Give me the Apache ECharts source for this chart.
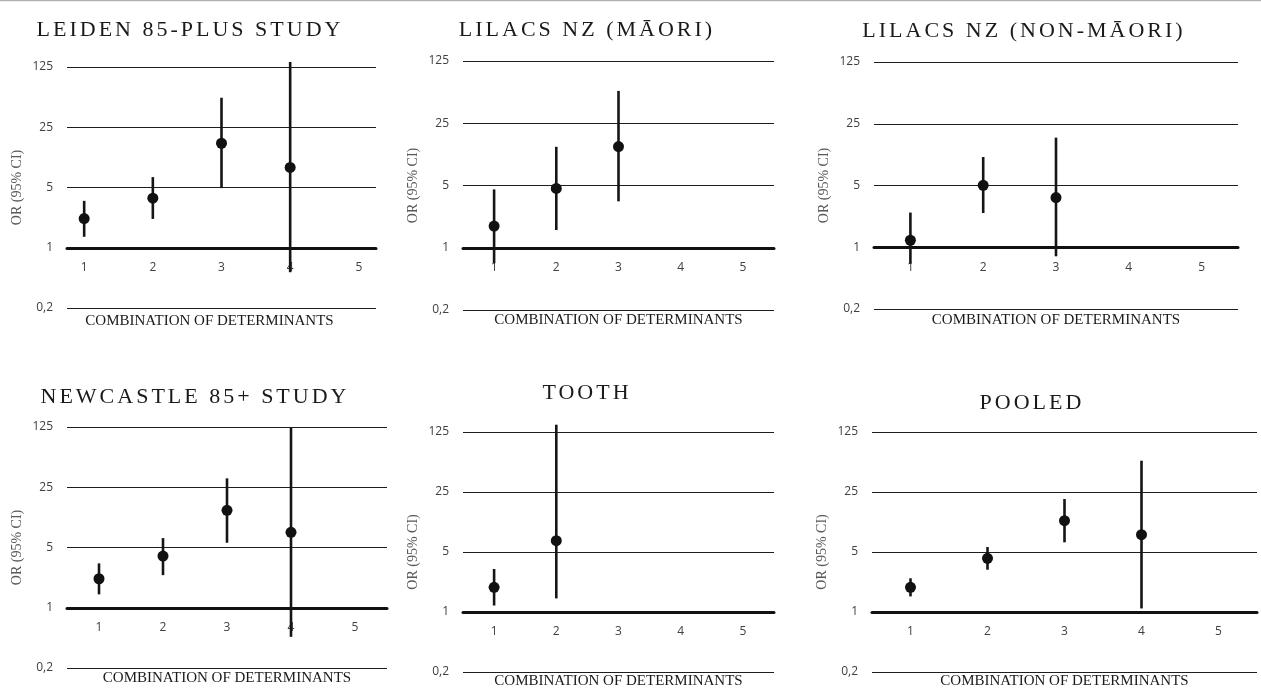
<!DOCTYPE html>
<html>
<head>
<meta charset="utf-8">
<title>OR by combination of determinants</title>
<script src="https://cdn.jsdelivr.net/npm/echarts@6/dist/echarts.min.js"></script>
<style>
  html, body { margin: 0; padding: 0; background: #fff; }
  #chart { width: 1261px; height: 691px; }
</style>
</head>
<body>
<div id="chart"></div>
<script>
// panel titles
var titles = ['LEIDEN 85-PLUS STUDY', 'LILACS NZ (MĀORI)', 'LILACS NZ (NON-MĀORI)',
              'NEWCASTLE 85+ STUDY', 'TOOTH', 'POOLED'];
var categories = [1, 2, 3, 4, 5];
var yTicks = [0.2, 1, 5, 25, 125];
var yTickLabels = ['0,2', '1', '5', '25', '125'];

// odds ratio and 95% CI per panel, one entry per combination
var orLeiden    = [2.18, 3.76, 16.3, 8.55];
var loLeiden    = [1.34, 2.16, 4.92, 0.52];
var hiLeiden    = [3.5, 6.6, 55, 143];

var orMaori     = [1.75, 4.64, 13.7];
var loMaori     = [0.67, 1.58, 3.32];
var hiMaori     = [4.52, 13.6, 57.7];

var orNonMaori  = [1.2, 5.02, 3.65];
var loNonMaori  = [0.65, 2.44, 0.79];
var hiNonMaori  = [2.47, 10.5, 17.4];

var orNewcastle = [2.17, 3.98, 13.5, 7.49];
var loNewcastle = [1.43, 2.39, 5.68, 0.46];
var hiNewcastle = [3.27, 6.43, 31.7, 123];

var orTooth     = [1.94, 6.78];
var loTooth     = [1.19, 1.44];
var hiTooth     = [3.17, 152];

var orPooled    = [1.94, 4.22, 11.6, 7.96];
var loPooled    = [1.52, 3.11, 6.48, 1.10];
var hiPooled    = [2.47, 5.72, 20.7, 57.9];

var panelOr = [orLeiden, orMaori, orNonMaori, orNewcastle, orTooth, orPooled];
var panelLo = [loLeiden, loMaori, loNonMaori, loNewcastle, loTooth, loPooled];
var panelHi = [hiLeiden, hiMaori, hiNonMaori, hiNewcastle, hiTooth, hiPooled];

// layout of each panel
var grids = [
  { left: 67,  top: 67,  width: 309, height: 241 },
  { left: 463, top: 61,  width: 311, height: 249 },
  { left: 874, top: 62,  width: 364, height: 247 },
  { left: 67,  top: 427, width: 320, height: 241 },
  { left: 463, top: 432, width: 311, height: 240 },
  { left: 872, top: 432, width: 385, height: 240 }
];
var xPad = [0.25, 0.5, 0.5, 0.5, 0.5, 0.5];
var titlePos = [
  { x: 185, y: 14 }, { x: 582, y: 14 }, { x: 1019, y: 15 },
  { x: 190, y: 381 }, { x: 582, y: 377 }, { x: 1027, y: 387 }
];
var xNameGap = [66, 65, 65, 63, 62, 62];
var xNameShift = [24, 0, 0, 0, 0, 0];

var serif = "'Liberation Serif', 'Times New Roman', serif";
var sans = "'Open Sans', sans-serif";

// titles are set with wide letter spacing; zrender has no option for it,
// so the canvas context gets it when the title font is in use
var TITLE_SIZE = 22;
var origFillText = CanvasRenderingContext2D.prototype.fillText;
CanvasRenderingContext2D.prototype.fillText = function (t, x, y, w) {
  if ('letterSpacing' in this) {
    this.letterSpacing = this.font.indexOf(TITLE_SIZE + 'px') >= 0 ? '3px' : '0px';
  }
  return w === undefined ? origFillText.call(this, t, x, y) : origFillText.call(this, t, x, y, w);
};

function tickLabel(v) {
  for (var i = 0; i < yTicks.length; i++) {
    if (Math.abs(v - yTicks[i]) / yTicks[i] < 1e-6) return yTickLabels[i];
  }
  return '';
}

function renderBar(params, api) {
  var x = api.value(0);
  var lo = api.coord([x, api.value(1)]);
  var hi = api.coord([x, api.value(2)]);
  return {
    type: 'line',
    shape: { x1: lo[0], y1: lo[1], x2: hi[0], y2: hi[1] },
    style: { stroke: '#151515', lineWidth: 2.6 }
  };
}

var option = {
  backgroundColor: '#fff',
  animation: false,
  title: [],
  grid: [],
  xAxis: [],
  yAxis: [],
  series: [],
  graphic: [{
    type: 'line', shape: { x1: 0, y1: 0.5, x2: 1261, y2: 0.5 },
    style: { stroke: '#b0b0b0', lineWidth: 1.5 }
  }]
};

for (var p = 0; p < 6; p++) {
  var g = grids[p];
  option.title.push({
    text: titles[p],
    left: titlePos[p].x,
    top: titlePos[p].y,
    textAlign: 'center',
    textStyle: { fontFamily: serif, fontSize: TITLE_SIZE, fontWeight: 'normal', color: '#1a1a1a' }
  });
  option.grid.push({ left: g.left, top: g.top, width: g.width, height: g.height });
  option.xAxis.push({
    type: 'value',
    gridIndex: p,
    min: categories[0] - xPad[p],
    max: categories[categories.length - 1] + xPad[p],
    position: 'bottom',
    offset: -g.height / 4,
    axisLine: { show: true, lineStyle: { color: '#111', width: 3 } },
    axisTick: { show: false },
    splitLine: { show: false },
    axisLabel: {
      customValues: categories,
      margin: 14,
      fontFamily: sans, fontSize: 12, color: '#404040'
    },
    name: 'COMBINATION OF DETERMINANTS',
    nameLocation: 'middle',
    nameGap: xNameGap[p],
    nameTextStyle: {
      fontFamily: serif, fontSize: 15, color: '#1a1a1a',
      padding: [0, xNameShift[p], 0, 0]
    }
  });
  option.yAxis.push({
    type: 'log',
    logBase: 5,
    gridIndex: p,
    min: yTicks[0],
    max: yTicks[yTicks.length - 1],
    axisLine: { show: false },
    axisTick: { show: false },
    splitLine: { show: true, lineStyle: { color: '#1e1e1e', width: 1.2 } },
    axisLabel: {
      formatter: tickLabel,
      margin: 14,
      fontFamily: sans, fontSize: 12, color: '#404040'
    },
    name: 'OR (95% CI)',
    nameLocation: 'middle',
    nameGap: 43,
    nameTextStyle: { fontFamily: serif, fontSize: 14, color: '#595959' }
  });

  var bars = [], points = [];
  for (var i = 0; i < panelOr[p].length; i++) {
    bars.push([categories[i], panelLo[p][i], panelHi[p][i]]);
    points.push([categories[i], panelOr[p][i]]);
  }
  option.series.push({
    type: 'custom',
    xAxisIndex: p,
    yAxisIndex: p,
    clip: false,
    renderItem: renderBar,
    data: bars,
    z: 3
  });
  option.series.push({
    type: 'scatter',
    xAxisIndex: p,
    yAxisIndex: p,
    symbol: 'circle',
    symbolSize: 11,
    itemStyle: { color: '#111', opacity: 1 },
    data: points,
    z: 4
  });
}

var myChart = echarts.init(document.getElementById('chart'));
myChart.setOption(option);
</script>
</body>
</html>
